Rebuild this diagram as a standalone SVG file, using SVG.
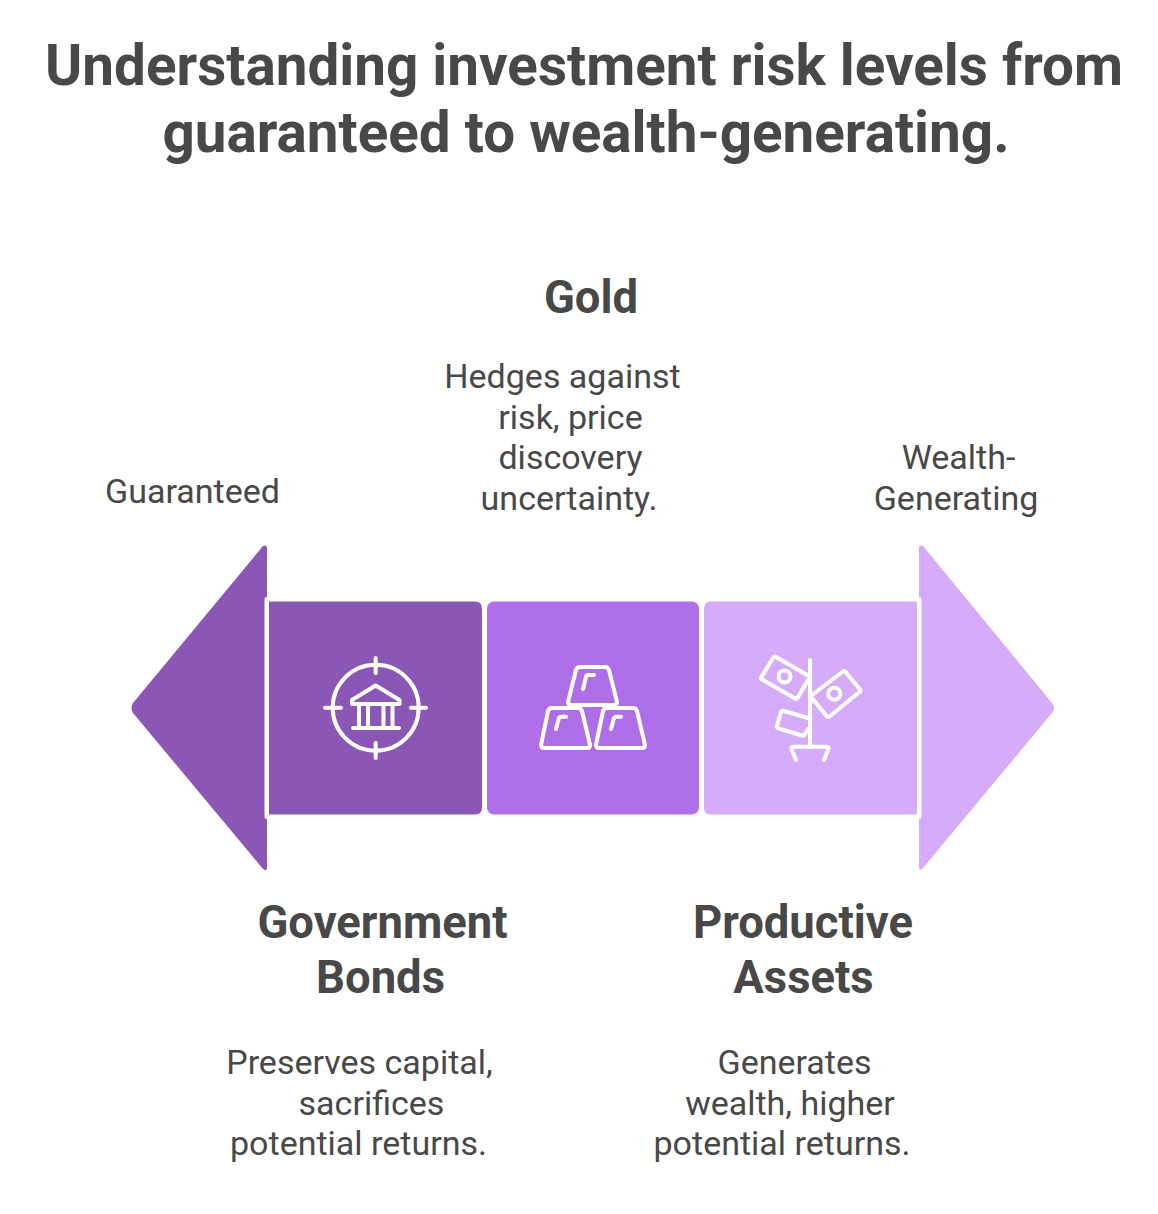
<svg xmlns="http://www.w3.org/2000/svg" width="1158" height="1214" viewBox="0 0 1158 1214">
<style>
text{font-family:Roboto,"Liberation Sans",sans-serif;fill:#484848;text-anchor:middle}
.t{font-size:56.600px;font-weight:700}
.h{font-size:45.400px;font-weight:700}
.d{font-size:34px;font-weight:400}
.i{fill:none;stroke:#fff;stroke-width:4;stroke-linecap:round;stroke-linejoin:round}
.sep{fill:#fff}
</style>
<rect width="1158" height="1214" fill="#fff"/>
<g id="title"><text class="t" x="584" y="85">Understanding investment risk levels from</text><text class="t" x="586" y="152">guaranteed to wealth-generating.</text></g>
<g id="arrow-left"><path d="M267 549Q267 544 263 546L133 703Q130 708 133 713L263 869Q267 872 267 867Z" fill="#8b57b7"/><rect class="sep" x="264.500" y="597" width="4.500" height="222" rx="2"/><text class="d" x="192.500" y="503">Guaranteed</text></g>
<g id="government-bonds"><path d="M269 601.500H475Q482 601.500 482 608.500V807.500Q482 814.500 475 814.500H269Z" fill="#8b57b7"/>
<g class="i"><circle cx="375.700" cy="707.700" r="43"/><path d="M375.700 658V673M375.700 743V758M325 707.700H341M411 707.700H426M352 700V704H399.500V700L375.700 685.500L352 700ZM359 704V726M368 704V726M383.500 704V726M392.500 704V726M353 728H399"/></g>
<text class="h" x="382.500" y="938">Government</text><text class="h" x="380.500" y="993">Bonds</text><text class="d" x="359.500" y="1074">Preserves capital,</text><text class="d" x="371.500" y="1115">sacrifices</text><text class="d" x="358.500" y="1155">potential returns.</text></g>
<g id="gold"><rect x="487" y="601.500" width="212" height="213" rx="7" fill="#ae6ee8"/>
<g class="i"><path d="M580 667H605Q608 667 609 670L617 702Q617 705 614 705H571Q568 705 568 702L576 670Q577 667 580 667ZM552 708H578Q581 708 582 711L590 745Q590 748 587 748H544Q541 748 541 745L548 711Q549 708 552 708ZM607 708H633Q636 708 637 711L645 745Q645 748 642 748H599Q596 748 596 745L603 711Q604 708 607 708ZM583 689L586 677Q586 675 588 675H594M556 729L559 718Q559.500 716.700 561 716.700H566M611 729L614 718Q614.500 716.700 616 716.700H621"/></g>
<text class="h" x="591" y="313">Gold</text><text class="d" x="562.500" y="388">Hedges against</text><text class="d" x="570.500" y="429">risk, price</text><text class="d" x="570.500" y="469">discovery</text><text class="d" x="569" y="510">uncertainty.</text></g>
<g id="productive-assets"><path d="M917 601.500H711Q704 601.500 704 608.500V807.500Q704 814.500 711 814.500H917Z" fill="#d6acfa"/>
<g class="i"><path d="M810 660V746M793 746.700H826Q829 746.700 828.500 749L824 760M793 746.700Q791 746.700 791.500 749L796 760M808 675.500L776 657Q774 656 773 658L761.500 677Q760.500 678.500 762 679.500L795 698.500Q796.500 699.500 797.500 698L808 680M812 695L843 671.500Q844.500 670.500 845.500 672L860 689.500Q861 691 859.500 692L829.500 716.500Q828 717.500 826.500 716L812 698M808 718L784 711Q781.500 710.500 781 712L777 725.500Q776.500 727.500 778.500 728.500L802 735.500Q804.500 736 805 734L808 729"/><circle cx="784.500" cy="676.500" r="6"/><circle cx="834.300" cy="693.700" r="6"/></g>
<text class="h" x="803" y="938">Productive</text><text class="h" x="803.500" y="993">Assets</text><text class="d" x="794.500" y="1074">Generates</text><text class="d" x="790" y="1115">wealth, higher</text><text class="d" x="782" y="1155">potential returns.</text></g>
<g id="arrow-right"><path d="M919 549Q919 544 923 546L1052 703Q1056 708 1052 713L923 868Q919 872 919 867Z" fill="#d6acfa"/><rect class="sep" x="917" y="597" width="4.500" height="222" rx="2"/><text class="d" x="958.500" y="469">Wealth-</text><text class="d" x="956" y="510">Generating</text></g>
<g id="connectors"/>
</svg>
